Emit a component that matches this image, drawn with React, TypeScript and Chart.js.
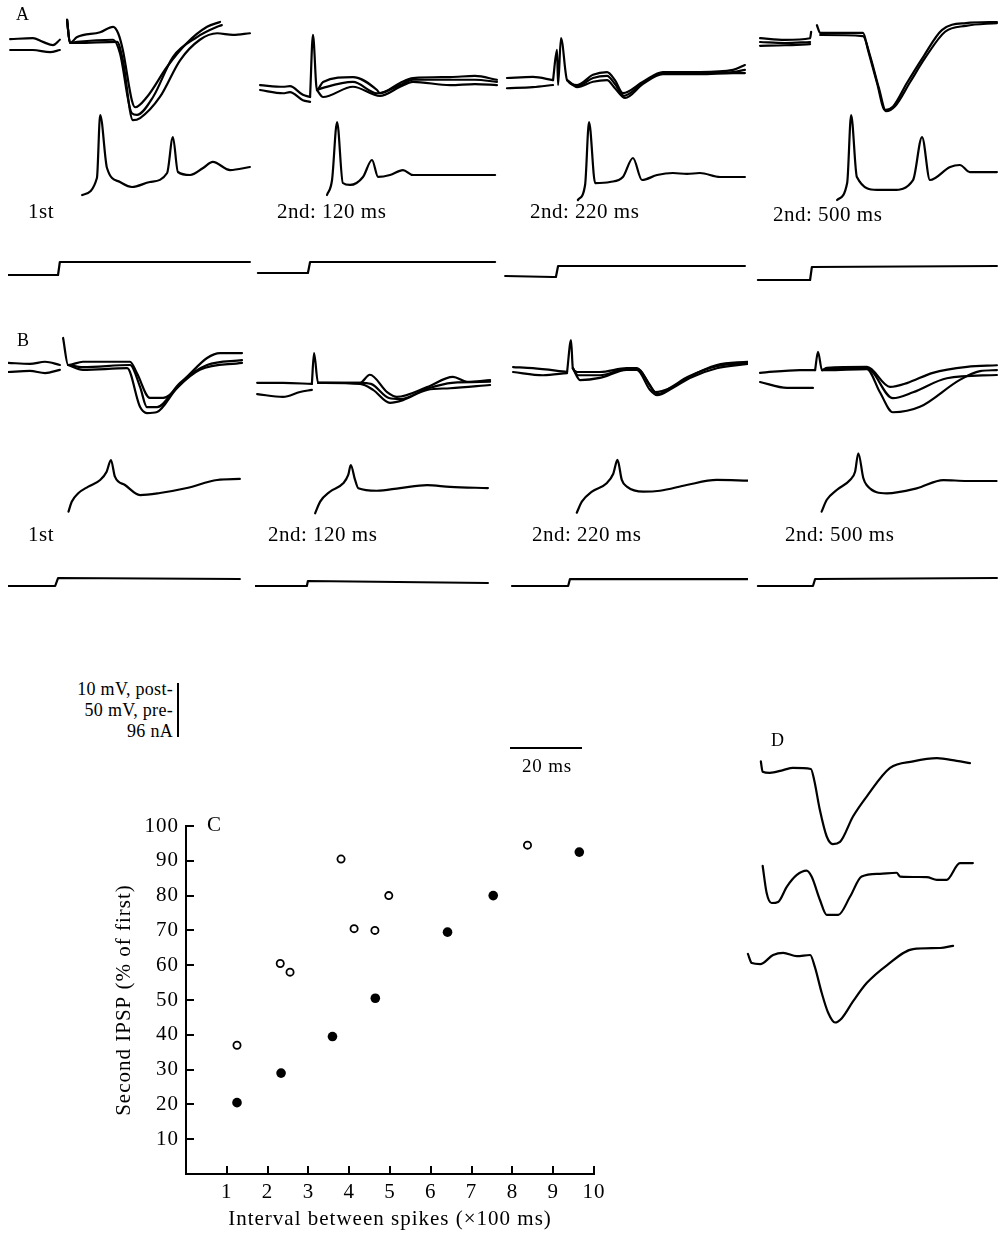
import React, { useEffect, useRef } from "react";
import { Chart, registerables } from "chart.js";
Chart.register(...registerables);

type Pt = [number, number];

/* ---------------- Panel C data ---------------- */
const xTickValues = [1, 2, 3, 4, 5, 6, 7, 8, 9, 10];
const yTickValues = [10, 20, 30, 40, 50, 60, 70, 80, 90, 100];
const openIntervals = [1.25, 2.31, 2.55, 3.8, 4.12, 4.63, 4.97, 8.37];
const openIPSP = [37, 60.5, 58, 90.5, 70.5, 70, 80, 94.5];
const filledIntervals = [1.25, 2.33, 3.59, 4.64, 6.41, 7.53, 9.64];
const filledIPSP = [20.5, 29, 39.5, 50.5, 69.5, 80, 92.5];

/* ---------------- trace data: [time ms, mV or nA] ---------------- */
// A, 1st
const A1_prev_a: Pt[] = [[0.6, 2.0], [6.9, 2.2], [9.7, 1.5], [12.5, 0.9], [14.4, 1.9]];
const A1_prev_b: Pt[] = [[0.6, 0], [6.9, 0], [11.7, -0.4], [14.4, 0]];
const A1_ipsp_a: Pt[] = [[16.4, 5.6], [17.2, 1.3], [19.2, 2.4], [25.6, 3.3], [29.2, 4.3], [30.6, 3.1], [31.9, 0], [34.4, -9.3], [35.3, -10.6], [38.6, -8.7], [44.2, -3.1], [49.7, 1.3], [55.3, 4.3], [58.9, 5.2]];
const A1_ipsp_b: Pt[] = [[16.4, 5.6], [17.2, 1.3], [19.2, 1.5], [29.2, 1.9], [31.1, -0.6], [34.4, -11.7], [35.8, -12.0], [40.3, -8.7], [45.8, -1.3], [52.5, 2.4], [58.1, 4.3], [59.4, 4.6]];
const A1_ipsp_c: Pt[] = [[16.4, 5.6], [17.2, 1.3], [19.2, 1.3], [30.3, 1.5], [31.9, -1.9], [34.7, -13.0], [36.7, -12.6], [42.2, -8.7], [47.8, -1.9], [53.3, 1.9], [58.1, 3.1], [62.5, 2.8], [67.2, 3.1]];
const A1_pre: Pt[] = [[20.6, 0], [24.7, 15.7], [25.6, 74], [27.5, 25], [31.1, 12], [34.4, 7.4], [39.4, 12], [44.2, 20.4], [45.8, 53.7], [47.2, 21.3], [50.6, 18.5], [54.2, 25], [56.9, 30.6], [61.7, 23.1], [67.2, 25.9]];
const A1_cur: Pt[] = [[0, 0], [13.9, 0], [14.4, 23.1], [67.2, 23.1]];
// A, 2nd 120 ms
const A2_prev_a: Pt[] = [[1.4, 0.9], [7.8, 0.6], [9.7, 0.7], [13.3, -0.9], [15.3, -1.3]];
const A2_prev_b: Pt[] = [[1.4, 0], [7.8, -0.6], [9.7, -0.4], [13.3, -1.9], [15.3, -2.2]];
const A2_ipsp_a: Pt[] = [[15.3, -1.3], [16.1, 10.2], [17.2, 0], [18.9, 1.5], [27.2, 2.4], [33.9, 0], [34.7, -0.6], [40.3, 1.3], [43.9, 2.2], [54.2, 2.4], [61.1, 2.6], [67.2, 1.9]];
const A2_ipsp_b: Pt[] = [[17.2, 0], [18.9, 0.4], [27.2, 1.5], [33.9, -0.6], [40.3, 0.9], [43.9, 1.9], [54.2, 1.9], [61.1, 1.9], [67.2, 1.5]];
const A2_ipsp_c: Pt[] = [[17.2, 0], [18.9, -1.3], [27.2, 0.6], [34.7, -1.1], [40.3, 0.6], [43.9, 1.5], [54.2, 0.9], [61.1, 1.1], [67.2, 0.9]];
const A2_pre: Pt[] = [[20, 0], [21.4, 13.9], [22.8, 67.6], [24.4, 11.1], [26.4, 9.3], [30, 16.7], [32.5, 32.4], [34.2, 16.7], [37.5, 18.5], [41.1, 23.1], [43.9, 18.5], [66.7, 18.5]];
const A2_cur: Pt[] = [[0.8, 0], [14.7, 0], [15.3, 19.6], [66.7, 19.6]];
// A, 2nd 220 ms
const A3_prev_a: Pt[] = [[1.1, 1.3], [8.3, 1.5], [13.9, 0.9]];
const A3_prev_b: Pt[] = [[1.1, -0.6], [8.3, -0.4], [13.9, 0]];
const A3_ipsp_a: Pt[] = [[13.9, 0.9], [15, 6.5], [15.3, 0], [16.1, 8.7], [17.8, 0.9], [20.6, 0], [25, 1.9], [28.9, 2.4], [31.1, 0.9], [33.3, -1.5], [38.9, 0.6], [44.4, 2.4], [54.7, 2.4], [63.9, 2.8], [67.2, 3.7]];
const A3_ipsp_b: Pt[] = [[17.8, 0.9], [20.6, -0.2], [25, 1.3], [28.9, 1.7], [31.1, 0.2], [33.6, -2.0], [38.9, 0.4], [44.4, 2.2], [54.7, 2.2], [63.9, 2.4], [67.2, 2.8]];
const A3_ipsp_c: Pt[] = [[17.8, 0.9], [20.6, -0.4], [25, 0.6], [28.9, 0.9], [31.1, -0.6], [33.9, -2.4], [38.9, 0.2], [44.4, 2.0], [54.7, 2.0], [63.9, 2.2], [67.2, 2.2]];
const A3_pre: Pt[] = [[20.8, 0], [22.8, 13.9], [23.9, 72.2], [25.6, 15.7], [29.7, 16.7], [33.3, 21.3], [36.1, 38.9], [38.6, 18.5], [42.8, 23.1], [47.2, 25], [51.1, 24.1], [54.7, 25], [60.3, 21.3], [67.2, 21.3]];
const A3_cur: Pt[] = [[0.6, 0], [13.9, -1.8], [14.7, -1.8], [15.3, 17.8], [67.2, 17.8]];
// A, 2nd 500 ms
const A4_prev_a: Pt[] = [[1.4, 0.7], [8.3, 0.4], [15.3, 0.7], [15.6, 1.9]];
const A4_prev_b: Pt[] = [[1.4, -0.7], [8.3, -0.6], [15.3, -0.4]];
const A4_prev_c: Pt[] = [[1.4, 0], [8.3, -0.2], [15.3, 0]];
const A4_ipsp_a: Pt[] = [[17.2, 3.1], [18.1, 1.7], [21.7, 1.7], [30, 1.7], [31.4, -1.5], [33.9, -7.6], [36.1, -12.6], [38.3, -12.0], [42.2, -7.6], [46.7, -2.8], [51.9, 2.2], [58.6, 3.5], [67.2, 3.7]];
const A4_ipsp_b: Pt[] = [[18.1, 1.3], [30, 1.1], [31.9, -2.4], [34.4, -8.5], [36.4, -12.8], [38.9, -11.9], [43.1, -7.4], [47.2, -3.0], [52.8, 1.9], [58.6, 3.0], [67.2, 3.5]];
const A4_pre: Pt[] = [[22.8, 0], [25.6, 15.7], [26.7, 78.7], [28.3, 21.3], [33.9, 9.3], [38.3, 9.3], [43.9, 18.5], [46.4, 58.3], [48.6, 18.5], [54.2, 30.6], [56.9, 32.4], [59.7, 25.9], [67.2, 25.9]];
const A4_cur: Pt[] = [[0.8, 0], [15.3, 0], [15.8, 23.1], [67.2, 24.9]];

// B, 1st
const B1_prev_a: Pt[] = [[0, 1.7], [6.1, 1.5], [10.3, 1.9], [14.4, 1.3]];
const B1_prev_b: Pt[] = [[0, 0], [6.1, 0.2], [10.3, -0.2], [14.4, 0.4]];
const B1_ipsp_a: Pt[] = [[15.3, 6.3], [16.7, 1.3], [20.8, 1.9], [33.9, 1.9], [35.8, -0.2], [39.4, -4.8], [43.1, -4.8], [49.7, -0.9], [55.3, 2.6], [58.9, 3.5], [65, 3.5]];
const B1_ipsp_b: Pt[] = [[16.7, 1.3], [20.8, 0.9], [33.9, 1.3], [36.7, -2.8], [38.6, -6.5], [41.4, -6.5], [47.8, -2.0], [55.3, 1.3], [65, 2.2]];
const B1_ipsp_c: Pt[] = [[16.7, 1.3], [20.8, 0.4], [33.1, 0.7], [36.7, -6.5], [38.6, -7.6], [41.4, -7.4], [46.9, -3.0], [53.3, 0.4], [65, 1.7]];
const B1_pre: Pt[] = [[16.8, 0.3], [17.7, 9.5], [19.5, 17.3], [22.3, 23.5], [25.6, 29.6], [27.4, 37.3], [28.6, 48.1], [29.7, 32.7], [32.5, 25], [36.7, 15.7], [42.2, 17.6], [49.7, 22.2], [58.1, 29.6], [64.4, 30.6]];
const B1_cur: Pt[] = [[0, 0], [13.1, 0], [13.9, 14.2], [64.4, 12.4]];
// B, 2nd 120 ms
const B2_prev_a: Pt[] = [[0.6, 0.4], [7.8, 0.4], [15.8, 0.2]];
const B2_prev_b: Pt[] = [[0.6, -1.7], [7.8, -2.2], [12.5, -1.3], [15.8, -0.9]];
const B2_ipsp_a: Pt[] = [[15.8, 0.2], [16.4, 5.9], [17.5, 0.4], [29.2, 0.4], [31.9, 1.9], [36.7, -1.3], [39.4, -2.2], [47.8, -0.4], [55, 1.5], [58.9, 0.6], [65.3, 0.9]];
const B2_ipsp_b: Pt[] = [[17.5, 0.4], [29.2, 0.4], [32.2, 0.2], [37.2, -2.4], [40.3, -2.6], [47.8, -0.7], [54.7, 0.4], [65.3, 0.6]];
const B2_ipsp_c: Pt[] = [[17.5, 0.4], [29.2, 0.2], [32.8, -0.9], [37.5, -3.3], [41.1, -2.8], [47.8, -0.9], [54.2, -0.6], [65.3, 0]];
const B2_pre: Pt[] = [[16.7, -0.3], [18.1, 10.5], [20.8, 19.7], [24.5, 27.5], [25.9, 35.2], [26.6, 44.4], [27.8, 30.6], [28.7, 22.9], [33.8, 20.6], [40.3, 23.1], [47.8, 25.9], [54.2, 24.1], [64.7, 23.1]];
const B2_cur: Pt[] = [[0, 0], [14.4, 0], [14.7, 8.9], [64.7, 5.3]];
// B, 2nd 220 ms
const B3_prev_a: Pt[] = [[2.8, 0.9], [8.3, 0.7], [17.8, 0]];
const B3_prev_b: Pt[] = [[2.8, 0], [11.1, -0.6], [17.8, -0.2]];
const B3_ipsp_a: Pt[] = [[17.8, 0], [18.9, 5.9], [19.4, 0.7], [20.6, 0], [26.9, 0], [34.4, 0.7], [37.2, 0.7], [40.8, -2.4], [42.2, -3.7], [46.4, -3.0], [51.1, -1.1], [59.4, 1.3], [68, 1.9]];
const B3_ipsp_b: Pt[] = [[19.4, 0.7], [21.4, -1.5], [26.9, -1.1], [34.4, 0.4], [37.2, 0.4], [40.8, -3.3], [42.8, -4.3], [47, -3.0], [51.9, -1.1], [59.4, 0.7], [68, 1.5]];
const B3_ipsp_c: Pt[] = [[19.4, 0.7], [20.8, -0.6], [26.9, -0.6], [34.4, 0.6], [37.2, 0.6], [41.4, -3.1], [43.1, -4.1], [46.7, -2.8], [51.4, -0.9], [59.4, 1.1], [68, 1.7]];
const B3_pre: Pt[] = [[20.5, 0.3], [21.9, 10.5], [24.7, 19.7], [28.8, 27.5], [30.6, 36.1], [31.8, 49.1], [33, 30.6], [34.4, 24.4], [39, 19.7], [43.6, 20.6], [51, 25.9], [59.4, 30.6], [68.1, 29.9]];
const B3_cur: Pt[] = [[2.5, 0], [18.1, 0], [18.6, 12.4], [68, 12.4]];
// B, 2nd 500 ms
const B4_prev_a: Pt[] = [[1.4, 1.7], [12.5, 2.2], [16.7, 2.2]];
const B4_prev_b: Pt[] = [[1.4, 0], [8.9, -1.1], [16.1, -1.1]];
const B4_ipsp_a: Pt[] = [[16.7, 2.2], [17.5, 5.6], [18.6, 2.2], [20, 2.6], [31.1, 2.8], [37.5, -0.9], [42.2, -0.2], [49.4, 1.7], [58.9, 2.8], [67.2, 3.1]];
const B4_ipsp_b: Pt[] = [[18.6, 2.2], [20, 2.4], [31.1, 2.6], [38.3, -3.0], [43.9, -1.9], [53.3, 0.7], [67.2, 1.3]];
const B4_ipsp_c: Pt[] = [[18.6, 2.2], [20, 2.2], [31.1, 2.4], [34.7, -1.9], [38.3, -5.6], [45.8, -4.6], [56.9, 0.4], [62.5, 2], [67.2, 2.2]];
const B4_pre: Pt[] = [[18.5, 0.3], [19.9, 11.1], [22.7, 20.4], [26.4, 29.6], [27.8, 37.3], [28.7, 54.4], [30.1, 31.2], [31, 25], [36.6, 17.3], [44.9, 21.9], [52.3, 29.6], [58.8, 28.7], [67.1, 28.7]];
const B4_cur: Pt[] = [[0.8, 0], [16.1, 0], [16.7, 12.4], [67.2, 14.2]];

// D
const D_top: Pt[] = [[4.4, 1.4], [4.9, -0.5], [6.9, -0.7], [10.6, -0.2], [13.3, 0.2], [18.3, 0], [19.2, -2.0], [20.8, -7.6], [22.7, -12.5], [24.4, -13.9], [26.4, -13.5], [30, -8.8], [33.8, -5.1], [40.3, 0.2], [46.7, 1.4], [53.3, 2.0], [58.8, 1.5], [62.5, 1.1]];
const D_mid: Pt[] = [[4.9, 1.9], [6, -3.1], [7.4, -5], [9.2, -4.8], [11.6, -2], [14.4, 0.2], [17.1, 1.0], [18.5, -0.1], [20.8, -4.4], [22.7, -7.2], [25.9, -7.2], [29.2, -3.8], [32.4, -0.1], [37.5, 0.4], [42.1, 0.6], [43.1, -0.1], [50.5, -0.2], [53.3, -0.7], [56, -0.7], [59.7, 2.4], [63.3, 2.4]];
const D_bot: Pt[] = [[0.8, 0.2], [1.9, -1.5], [4.2, -1.7], [7.8, 0], [10.6, 0.4], [14.4, -0.2], [18.1, 0], [19.4, -2.2], [21.3, -7.0], [23.1, -10.7], [25, -12.5], [26.9, -11.7], [30, -8.6], [33.8, -5.2], [39.4, -1.9], [46.7, 1.1], [54.2, 1.3], [57.8, 1.7]];

/* ---------------- scales / layout ---------------- */
const PX_PER_MS = 3.6;
const PX_PER_MV_POST = 5.4;
const PX_PER_MV_PRE = 1.08;
const PX_PER_NA = 0.5625;
const SERIF = '"Liberation Serif", "Times New Roman", serif';

type Box = { left: number; top: number; width: number; height: number; base: number; unit: number; smooth: boolean; traces: Pt[][] };

const COL = [8, 255, 503, 755];
const W = 245;
const boxes: Box[] = [
  // A post
  { left: COL[0], top: 5, width: W, height: 135, base: 50, unit: PX_PER_MV_POST, smooth: true, traces: [A1_prev_a, A1_prev_b, A1_ipsp_a, A1_ipsp_b, A1_ipsp_c] },
  { left: COL[1], top: 5, width: W, height: 135, base: 90, unit: PX_PER_MV_POST, smooth: true, traces: [A2_prev_a, A2_prev_b, A2_ipsp_a, A2_ipsp_b, A2_ipsp_c] },
  { left: COL[2], top: 5, width: W, height: 135, base: 85, unit: PX_PER_MV_POST, smooth: true, traces: [A3_prev_a, A3_prev_b, A3_ipsp_a, A3_ipsp_b, A3_ipsp_c] },
  { left: COL[3], top: 5, width: W, height: 135, base: 42, unit: PX_PER_MV_POST, smooth: true, traces: [A4_prev_a, A4_prev_b, A4_prev_c, A4_ipsp_a, A4_ipsp_b] },
  // A pre
  { left: COL[0], top: 100, width: W, height: 110, base: 195, unit: PX_PER_MV_PRE, smooth: true, traces: [A1_pre] },
  { left: COL[1], top: 100, width: W, height: 110, base: 195, unit: PX_PER_MV_PRE, smooth: true, traces: [A2_pre] },
  { left: COL[2], top: 100, width: W, height: 110, base: 200, unit: PX_PER_MV_PRE, smooth: true, traces: [A3_pre] },
  { left: COL[3], top: 100, width: W, height: 110, base: 200, unit: PX_PER_MV_PRE, smooth: true, traces: [A4_pre] },
  // A current
  { left: COL[0], top: 250, width: W, height: 40, base: 275, unit: PX_PER_NA, smooth: false, traces: [A1_cur] },
  { left: COL[1], top: 250, width: W, height: 40, base: 273, unit: PX_PER_NA, smooth: false, traces: [A2_cur] },
  { left: COL[2], top: 250, width: W, height: 40, base: 276, unit: PX_PER_NA, smooth: false, traces: [A3_cur] },
  { left: COL[3], top: 250, width: W, height: 40, base: 280, unit: PX_PER_NA, smooth: false, traces: [A4_cur] },
  // B post
  { left: COL[0], top: 325, width: W, height: 100, base: 372, unit: PX_PER_MV_POST, smooth: true, traces: [B1_prev_a, B1_prev_b, B1_ipsp_a, B1_ipsp_b, B1_ipsp_c] },
  { left: COL[1], top: 325, width: W, height: 100, base: 385, unit: PX_PER_MV_POST, smooth: true, traces: [B2_prev_a, B2_prev_b, B2_ipsp_a, B2_ipsp_b, B2_ipsp_c] },
  { left: COL[2], top: 325, width: W, height: 100, base: 372, unit: PX_PER_MV_POST, smooth: true, traces: [B3_prev_a, B3_prev_b, B3_ipsp_a, B3_ipsp_b, B3_ipsp_c] },
  { left: COL[3], top: 325, width: W, height: 100, base: 382, unit: PX_PER_MV_POST, smooth: true, traces: [B4_prev_a, B4_prev_b, B4_ipsp_a, B4_ipsp_b, B4_ipsp_c] },
  // B pre
  { left: COL[0], top: 440, width: W, height: 85, base: 512, unit: PX_PER_MV_PRE, smooth: true, traces: [B1_pre] },
  { left: COL[1], top: 440, width: W, height: 85, base: 513, unit: PX_PER_MV_PRE, smooth: true, traces: [B2_pre] },
  { left: COL[2], top: 440, width: W, height: 85, base: 513, unit: PX_PER_MV_PRE, smooth: true, traces: [B3_pre] },
  { left: COL[3], top: 440, width: W, height: 85, base: 512, unit: PX_PER_MV_PRE, smooth: true, traces: [B4_pre] },
  // B current
  { left: COL[0], top: 565, width: W, height: 35, base: 586, unit: PX_PER_NA, smooth: false, traces: [B1_cur] },
  { left: COL[1], top: 565, width: W, height: 35, base: 586, unit: PX_PER_NA, smooth: false, traces: [B2_cur] },
  { left: COL[2], top: 565, width: W, height: 35, base: 586, unit: PX_PER_NA, smooth: false, traces: [B3_cur] },
  { left: COL[3], top: 565, width: W, height: 35, base: 586, unit: PX_PER_NA, smooth: false, traces: [B4_cur] },
  // D
  { left: 745, top: 745, width: 240, height: 110, base: 769, unit: PX_PER_MV_POST, smooth: true, traces: [D_top] },
  { left: 745, top: 855, width: 240, height: 70, base: 876, unit: PX_PER_MV_POST, smooth: true, traces: [D_mid] },
  { left: 745, top: 935, width: 240, height: 100, base: 955, unit: PX_PER_MV_POST, smooth: true, traces: [D_bot] },
];

function TraceBox({ b }: { b: Box }) {
  const ref = useRef<HTMLCanvasElement>(null);
  useEffect(() => {
    const chart = new Chart(ref.current!, {
      type: "line",
      data: {
        datasets: b.traces.map((tr) => ({
          data: tr.map(([x, y]) => ({ x, y })),
          borderColor: "#000",
          borderWidth: 2.2,
          pointRadius: 0,
          tension: b.smooth ? 0.4 : 0,
          cubicInterpolationMode: b.smooth ? ("monotone" as const) : ("default" as const),
          fill: false,
          borderJoinStyle: "round" as const,
          borderCapStyle: "round" as const,
        })),
      },
      options: {
        animation: false,
        responsive: false,
        events: [],
        layout: { padding: 0 },
        plugins: { legend: { display: false }, tooltip: { enabled: false } },
        scales: {
          x: { type: "linear", display: false, min: 0, max: b.width / PX_PER_MS },
          y: {
            type: "linear",
            display: false,
            min: (b.base - b.top - b.height) / b.unit,
            max: (b.base - b.top) / b.unit,
          },
        },
      },
    });
    return () => chart.destroy();
  }, []);
  return (
    <canvas
      ref={ref}
      width={b.width}
      height={b.height}
      style={{ position: "absolute", left: b.left, top: b.top, width: b.width, height: b.height }}
    />
  );
}

const letterSpace = {
  id: "letterSpace",
  beforeDraw(chart: any) {
    try {
      chart.ctx.letterSpacing = "1px";
    } catch (e) {}
  },
};

const inwardTicks = {
  id: "inwardTicks",
  afterDraw(chart: any) {
    const { ctx, chartArea, scales } = chart;
    ctx.save();
    ctx.strokeStyle = "#000";
    ctx.lineWidth = 2;
    ctx.beginPath();
    for (const v of xTickValues) {
      const px = Math.round(scales.x.getPixelForValue(v));
      ctx.moveTo(px, chartArea.bottom);
      ctx.lineTo(px, chartArea.bottom - 8);
    }
    for (const v of yTickValues) {
      const py = Math.round(scales.y.getPixelForValue(v));
      ctx.moveTo(chartArea.left, py);
      ctx.lineTo(chartArea.left + 8, py);
    }
    ctx.stroke();
    ctx.restore();
  },
};

function ScatterC() {
  const ref = useRef<HTMLCanvasElement>(null);
  useEffect(() => {
    const font = { family: SERIF, size: 21 };
    const chart = new Chart(ref.current!, {
      type: "scatter",
      data: {
        datasets: [
          {
            data: openIntervals.map((x, i) => ({ x, y: openIPSP[i] })),
            pointStyle: "circle",
            pointRadius: 3.6,
            pointBorderWidth: 1.8,
            pointBackgroundColor: "#fff",
            pointBorderColor: "#000",
          },
          {
            data: filledIntervals.map((x, i) => ({ x, y: filledIPSP[i] })),
            pointStyle: "circle",
            pointRadius: 4.8,
            pointBorderWidth: 0,
            pointBackgroundColor: "#000",
            pointBorderColor: "#000",
          },
        ],
      },
      options: {
        animation: false,
        responsive: false,
        events: [],
        layout: { padding: { top: 20, right: 20, left: 0, bottom: 0 } },
        plugins: { legend: { display: false }, tooltip: { enabled: false } },
        scales: {
          x: {
            type: "linear",
            min: 0,
            max: 10,
            afterBuildTicks: (s: any) => {
              s.ticks = xTickValues.map((value) => ({ value }));
            },
            afterFit: (s: any) => {
              s.height = 64;
            },
            grid: { display: false, drawTicks: false },
            border: { display: true, color: "#000", width: 2 },
            ticks: { color: "#000", font, padding: 6, maxRotation: 0, autoSkip: false },
            title: {
              display: true,
              text: "Interval between spikes (×100 ms)",
              color: "#000",
              font,
              padding: { top: 4, bottom: 6 },
            },
          },
          y: {
            type: "linear",
            min: 0,
            max: 100,
            afterBuildTicks: (s: any) => {
              s.ticks = yTickValues.map((value) => ({ value }));
            },
            afterFit: (s: any) => {
              s.width = 80;
            },
            grid: { display: false, drawTicks: false },
            border: { display: true, color: "#000", width: 2 },
            ticks: { color: "#000", font, padding: 7, autoSkip: false },
            title: {
              display: true,
              text: "Second IPSP (% of first)",
              color: "#000",
              font,
              padding: { top: 6, bottom: 4 },
            },
          },
        },
      },
      plugins: [letterSpace, inwardTicks],
    });
    return () => chart.destroy();
  }, []);
  return (
    <canvas
      ref={ref}
      width={508}
      height={432}
      style={{ position: "absolute", left: 106, top: 806, width: 508, height: 432 }}
    />
  );
}

const txt = (size: number, spacing = 0.5): React.CSSProperties => ({
  position: "absolute",
  fontFamily: SERIF,
  fontSize: size,
  lineHeight: 1,
  color: "#000",
  whiteSpace: "nowrap",
  letterSpacing: spacing,
});

const sweepLabels = ["1st", "2nd: 120 ms", "2nd: 220 ms", "2nd: 500 ms"];
const labelLeftA = [28, 277, 530, 773];
const labelLeftB = [28, 268, 532, 785];

export default function App() {
  return (
    <div style={{ position: "absolute", left: 0, top: 0, width: 1005, height: 1238, background: "#fff", overflow: "hidden" }}>
      {boxes.map((b, i) => (
        <TraceBox key={i} b={b} />
      ))}
      <ScatterC />

      <div style={{ ...txt(18), left: 16, top: 5 }}>A</div>
      <div style={{ ...txt(18), left: 17, top: 331 }}>B</div>
      <div style={{ ...txt(21), left: 207, top: 814 }}>C</div>
      <div style={{ ...txt(18), left: 771, top: 731 }}>D</div>

      {sweepLabels.map((s, i) => (
        <div key={"a" + i} style={{ ...txt(21), left: labelLeftA[i], top: i === 3 ? 204 : 201 }}>
          {s}
        </div>
      ))}
      {sweepLabels.map((s, i) => (
        <div key={"b" + i} style={{ ...txt(21), left: labelLeftB[i], top: 524 }}>
          {s}
        </div>
      ))}

      {/* calibration */}
      <div style={{ ...txt(18, 0.3), right: 1005 - 173, top: 680, textAlign: "right" }}>10 mV, post-</div>
      <div style={{ ...txt(18, 0.3), right: 1005 - 173, top: 701, textAlign: "right" }}>50 mV, pre-</div>
      <div style={{ ...txt(18, 0.3), right: 1005 - 173, top: 722, textAlign: "right" }}>96 nA</div>
      <div style={{ position: "absolute", left: 177, top: 683, width: 2, height: 10 * PX_PER_MV_POST, background: "#000" }} />
      <div style={{ position: "absolute", left: 510, top: 747, width: 20 * PX_PER_MS, height: 2, background: "#000" }} />
      <div style={{ ...txt(19, 0.8), left: 522, top: 756 }}>20 ms</div>
    </div>
  );
}
